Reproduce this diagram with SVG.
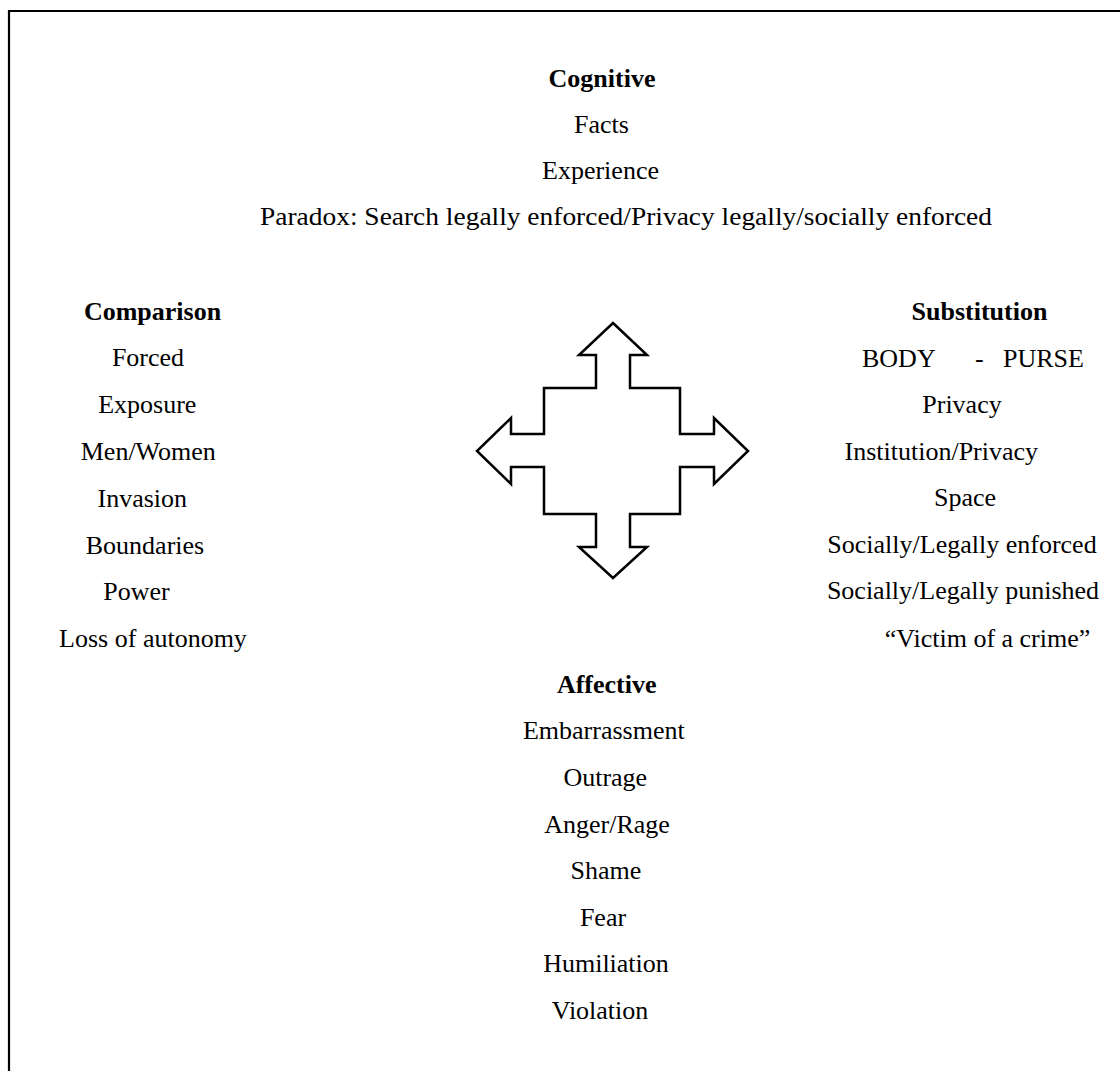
<svg xmlns="http://www.w3.org/2000/svg" width="1120" height="1071" viewBox="0 0 1120 1071">
<style>
text{font-family:"Liberation Serif","Times New Roman",serif;font-size:26px;fill:#000;text-anchor:middle}
.h{font-weight:bold}
.s{text-anchor:start}
.shape{fill:#fff;stroke:#000;stroke-width:2.5;stroke-linejoin:miter}
</style>
<rect width="1120" height="1071" fill="#fff"/>
<path d="M9,1071 L9,11 L1120,11" fill="none" stroke="#000" stroke-width="2.2"/>
<g id="connectors">
<polygon id="cross-arrow" class="shape" points="613,323 647,355 630,355 630,388 680,388 680,434 714,434 714,418 748,451 714,484 714,467 680,467 680,514 630,514 630,547 647,547 613,578 579,547 596,547 596,514 544,514 544,467 511,467 511,484 477,451 511,418 511,434 544,434 544,388 596,388 596,355 579,355"/>
</g>
<g id="cognitive">
<text class="h" x="602" y="87">Cognitive</text>
<text x="601.5" y="133">Facts</text>
<text x="600.5" y="179">Experience</text>
<text class="s" x="260" y="225" textLength="732" lengthAdjust="spacingAndGlyphs">Paradox: Search legally enforced/Privacy legally/socially enforced</text>
</g>
<g id="comparison">
<text class="h" x="152.5" y="320">Comparison</text>
<text x="148" y="366">Forced</text>
<text x="147.3" y="413">Exposure</text>
<text x="148.3" y="460">Men/Women</text>
<text x="142.3" y="507">Invasion</text>
<text x="145" y="554">Boundaries</text>
<text x="136.5" y="600">Power</text>
<text x="153" y="647">Loss of autonomy</text>
</g>
<g id="substitution">
<text class="h" x="979.5" y="320">Substitution</text>
<text class="s" y="367"><tspan x="862">BODY</tspan><tspan x="975">-</tspan><tspan x="1003">PURSE</tspan></text>
<text x="962" y="413">Privacy</text>
<text x="941.3" y="460">Institution/Privacy</text>
<text x="965" y="506">Space</text>
<text x="962" y="553">Socially/Legally enforced</text>
<text x="963" y="599">Socially/Legally punished</text>
<text x="987.5" y="647">“Victim of a crime”</text>
</g>
<g id="affective">
<text class="h" x="606.7" y="693">Affective</text>
<text x="603.8" y="739">Embarrassment</text>
<text x="605.3" y="786">Outrage</text>
<text x="607" y="833">Anger/Rage</text>
<text x="606" y="879">Shame</text>
<text x="603" y="926">Fear</text>
<text x="606" y="972">Humiliation</text>
<text x="600" y="1019">Violation</text>
</g>
</svg>
